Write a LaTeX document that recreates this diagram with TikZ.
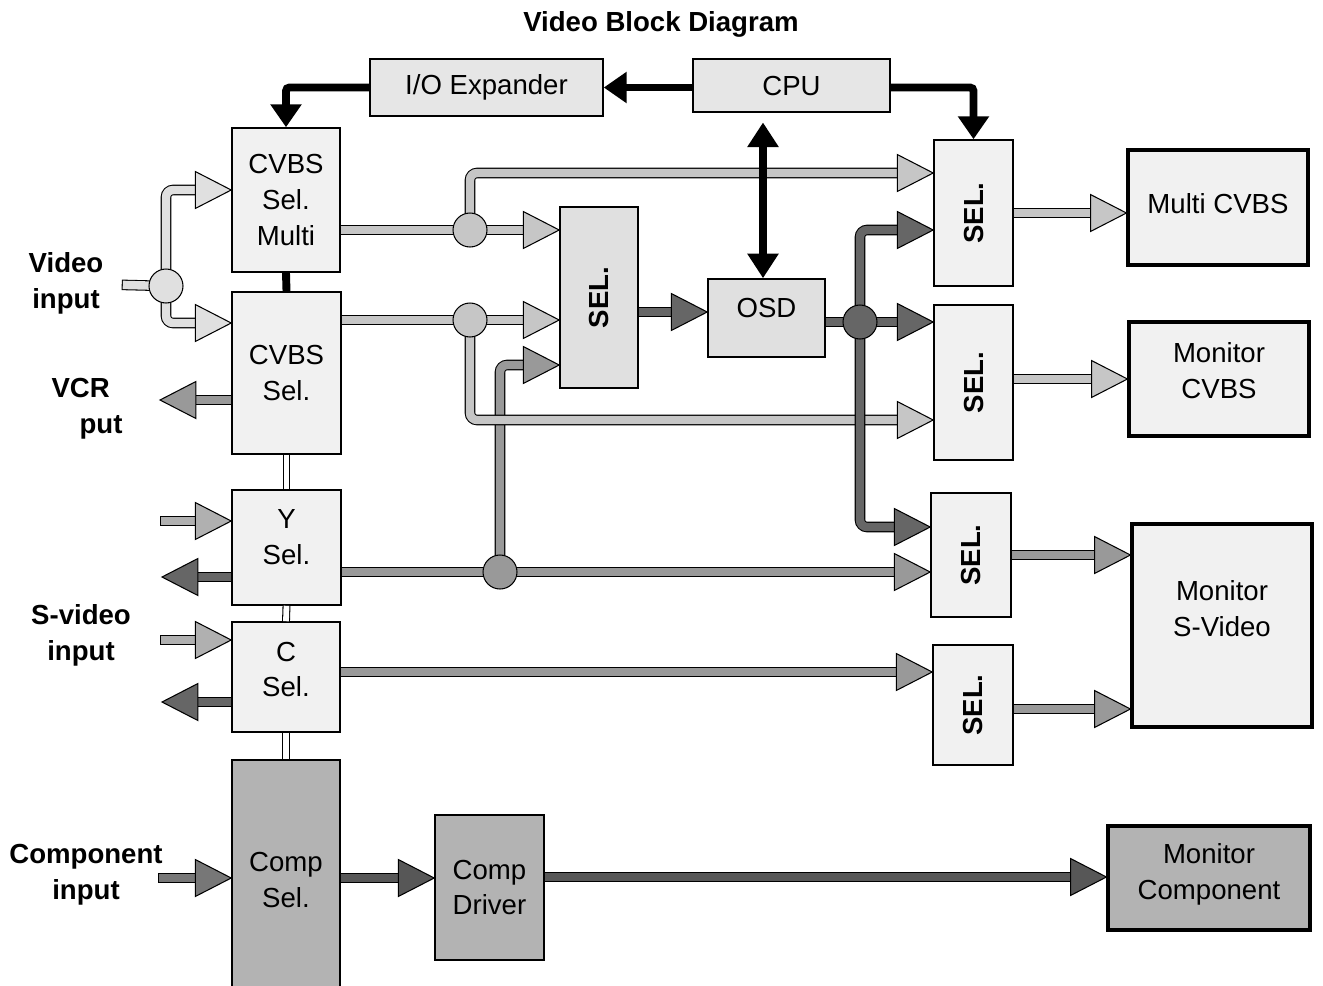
\documentclass[tikz,border=0pt]{standalone}
\usepackage{fontspec}
\setmainfont{Liberation Sans}
\usetikzlibrary{arrows.meta,decorations.markings}

\definecolor{pale}{HTML}{E0E0E0}
\definecolor{lite}{HTML}{C6C6C6}
\definecolor{sv}{HTML}{B0B0B0}
\definecolor{mid}{HTML}{999999}
\definecolor{dark}{HTML}{666666}
\definecolor{compin}{HTML}{777777}
\definecolor{comp}{HTML}{575757}
\definecolor{boxA}{HTML}{F1F1F1}
\definecolor{boxB}{HTML}{E6E6E6}
\definecolor{boxC}{HTML}{E0E0E0}
\definecolor{boxD}{HTML}{B3B3B3}

\newcommand\blockfont{\fontsize{15.7}{20.4}\selectfont}

\tikzset{
  blk/.style={draw, line width=0.9pt, fill=#1, align=center, inner sep=0pt, font=\blockfont},
  mon/.style={blk=#1, line width=1.8pt},
  txt/.style={font=\blockfont, align=center},
  seltxt/.style={font=\blockfont\bfseries, rotate=90},
  lab/.style={font=\blockfont\bfseries, align=center},
  bar/.style={draw=black, double=#1, double distance=4.8pt, line width=0.6pt, rounded corners=4pt},
  pipe/.style={bar=#1, shorten >=16pt, postaction={decorate, decoration={markings,
      mark=at position 1 with {\draw[sharp corners, fill=#1, line width=0.6pt]
        (0,0) -- (-20.4pt,10.5pt) -- (-20.4pt,-10.5pt) -- cycle;}}}},
  stub/.style={line cap=rect},
  jct/.style={circle, draw, fill=#1, line width=0.6pt, minimum size=0.68cm, inner sep=0pt},
  ctl/.style={line width=4.5pt, rounded corners=2pt, -{Triangle[length=13pt, width=17pt]}},
  link/.style={draw=black, double=white, double distance=3.3pt, line width=0.6pt},
}

\begin{document}
\begin{tikzpicture}[x=0.02cm, y=-0.02cm]
  \useasboundingbox (0,0) rectangle (1323,985);

  \node[lab] (title) at (661,24) {Video Block Diagram};
  \node[lab] (lvideo) at (66,283) {Video\\input};
  \node[lab, align=left] (lvcr) at (87,409) {VCR\\\hspace*{16pt}put};
  \node[lab] (lsvideo) at (81,635) {S-video\\input};
  \node[lab] (lcomp) at (86,875) {Component\\input};

  \node[blk=boxB, minimum width=4.66cm, minimum height=1.14cm] (io) at (486.5,87.5) {I/O Expander};
  \node[blk=boxB, minimum width=3.94cm, minimum height=1.06cm] (cpu) at (791.5,85.5) {CPU};

  \node[blk=boxA, minimum width=2.16cm, minimum height=2.88cm] (cvbsm) at (286,200) {CVBS\\Sel.\\Multi};
  \node[blk=boxA, minimum width=2.18cm, minimum height=3.24cm] (cvbs) at (286.5,373) {CVBS\\Sel.};
  \node[blk=boxA, minimum width=2.18cm, minimum height=2.3cm,
    label={[txt, yshift=5.7pt]center:Y\\Sel.}] (ysel) at (286.5,547.5) {};
  \node[blk=boxA, minimum width=2.16cm, minimum height=2.2cm,
    label={[txt, yshift=4.3pt]center:C\\Sel.}] (csel) at (286,677) {};
  \node[blk=boxD, minimum width=2.16cm, minimum height=4.8cm] (compsel) at (286,880) {Comp\\Sel.};
  \node[blk=boxD, minimum width=2.18cm, minimum height=2.9cm] (drv) at (489.5,887.5) {Comp\\Driver};

  \node[blk=boxC, minimum width=1.56cm, minimum height=3.62cm,
    label={[seltxt]center:SEL.}] (selm) at (599,297.5) {};
  \node[blk=boxC, minimum width=2.34cm, minimum height=1.56cm,
    label={[txt, yshift=5.7pt]center:OSD}] (osd) at (766.5,318) {};

  \node[blk=boxA, minimum width=1.58cm, minimum height=2.92cm,
    label={[seltxt]center:SEL.}] (sel1) at (973.5,213) {};
  \node[blk=boxA, minimum width=1.58cm, minimum height=3.1cm,
    label={[seltxt]center:SEL.}] (sel2) at (973.5,382.5) {};
  \node[blk=boxA, minimum width=1.6cm, minimum height=2.48cm,
    label={[seltxt]center:SEL.}] (sel3) at (971,555) {};
  \node[blk=boxA, minimum width=1.6cm, minimum height=2.4cm,
    label={[seltxt]center:SEL.}] (sel4) at (973,705) {};

  \node[mon=boxA, minimum width=3.6cm, minimum height=2.3cm,
    label={[txt, yshift=2pt]center:Multi CVBS}] (multi) at (1218,207.5) {};
  \node[mon=boxA, minimum width=3.6cm, minimum height=2.28cm,
    label={[txt, yshift=5pt]center:Monitor\\CVBS}] (monc) at (1219,379) {};
  \node[mon=boxA, minimum width=3.6cm, minimum height=4.06cm,
    label={[txt, yshift=9.6pt]center:Monitor\\S-Video}] (mons) at (1222,625.5) {};
  \node[mon=boxD, minimum width=4.04cm, minimum height=2.08cm,
    label={[txt, yshift=2.3pt]center:Monitor\\Component}] (moncomp) at (1209,878) {};

  \coordinate (jv) at (166,286);
  \coordinate (j1) at (470,230);
  \coordinate (j2) at (470,320);
  \coordinate (j3) at (500,572);
  \coordinate (j4) at (860,322);
  \coordinate (vin) at (127,285);
  \coordinate (vcrout) at (160,400);
  \coordinate (yin) at (165,521);
  \coordinate (yout) at (162,577);
  \coordinate (cin) at (165,640);
  \coordinate (cout) at (162,702);
  \coordinate (cmpin) at (163,878);

  % inputs and outputs on the left
  \draw[bar=pale, stub] (vin) -- (jv);
  \draw[pipe=pale] (jv) |- (cvbsm.west |- 0,190);
  \draw[pipe=pale] (jv) |- (cvbs.west |- 0,323);
  \draw[pipe=mid] (cvbs.west |- vcrout) -- (vcrout);
  \draw[pipe=sv, stub] (yin) -- (ysel.west |- yin);
  \draw[pipe=dark] (ysel.west |- yout) -- (yout);
  \draw[pipe=sv, stub] (cin) -- (csel.west |- cin);
  \draw[pipe=dark] (csel.west |- cout) -- (cout);
  \draw[pipe=compin, stub] (cmpin) -- (compsel.west |- cmpin);

  % S-video
  \draw[bar=mid] (ysel.east |- j3) -- (j3);
  \draw[pipe=mid] (j3) -- (sel3.west |- j3);
  \draw[pipe=mid] (j3) |- (selm.west |- 0,365);
  \draw[pipe=mid] (csel.east |- 0,672) -- (sel4.west |- 0,672);

  % CVBS
  \draw[bar=lite] (cvbsm.east |- j1) -- (j1);
  \draw[pipe=lite] (j1) -- (selm.west |- j1);
  \draw[pipe=lite] (j1) |- (sel1.west |- 0,173);
  \draw[bar=lite] (cvbs.east |- j2) -- (j2);
  \draw[pipe=lite] (j2) -- (selm.west |- j2);
  \draw[pipe=lite] (j2) |- (sel2.west |- 0,420);

  % OSD
  \draw[pipe=dark] (selm.east |- 0,312) -- (osd.west |- 0,312);
  \draw[bar=dark] (osd.east |- j4) -- (j4);
  \draw[pipe=dark] (j4) -- (sel2.west |- j4);
  \draw[pipe=dark] (j4) |- (sel1.west |- 0,230);
  \draw[pipe=dark] (j4) |- (sel3.west |- 0,527);

  \draw[pipe=lite] (sel1.east) -- (multi.west |- sel1.east);
  \draw[pipe=lite] (sel2.east |- 0,379) -- (monc.west |- 0,379);
  \draw[pipe=mid] (sel3.east) -- (mons.west |- sel3.east);
  \draw[pipe=mid] (sel4.east |- 0,709) -- (mons.west |- 0,709);

  \draw[pipe=comp] (compsel.east |- 0,878) -- (drv.west |- 0,878);
  \draw[pipe=comp] (drv.east |- 0,877) -- (moncomp.west |- 0,877);

  \node[jct=pale] (dv) at (jv) {};
  \node[jct=lite] (d1) at (j1) {};
  \node[jct=lite] (d2) at (j2) {};
  \node[jct=mid] (d3) at (j3) {};
  \node[jct=dark] (d4) at (j4) {};

  % control
  \draw[ctl] (cpu.west |- io) -- (io.east);
  \draw[ctl] (io.west) -| (cvbsm.north);
  \draw[ctl] (cpu.east |- io) -| (sel1.north);
  \draw[ctl, {Triangle[length=14pt, width=17pt]}-{Triangle[length=14pt, width=17pt]}, shorten >=5.5pt]
    (osd.north -| 763,0) -- (cpu.south -| 763,0);
  \draw[line width=4.5pt] (cvbsm.south) -- (cvbs.north);
  \draw[link] (cvbs.south) -- (ysel.north);
  \draw[link] (ysel.south) -- (csel.north);
  \draw[link] (csel.south) -- (compsel.north);
\end{tikzpicture}
\end{document}
